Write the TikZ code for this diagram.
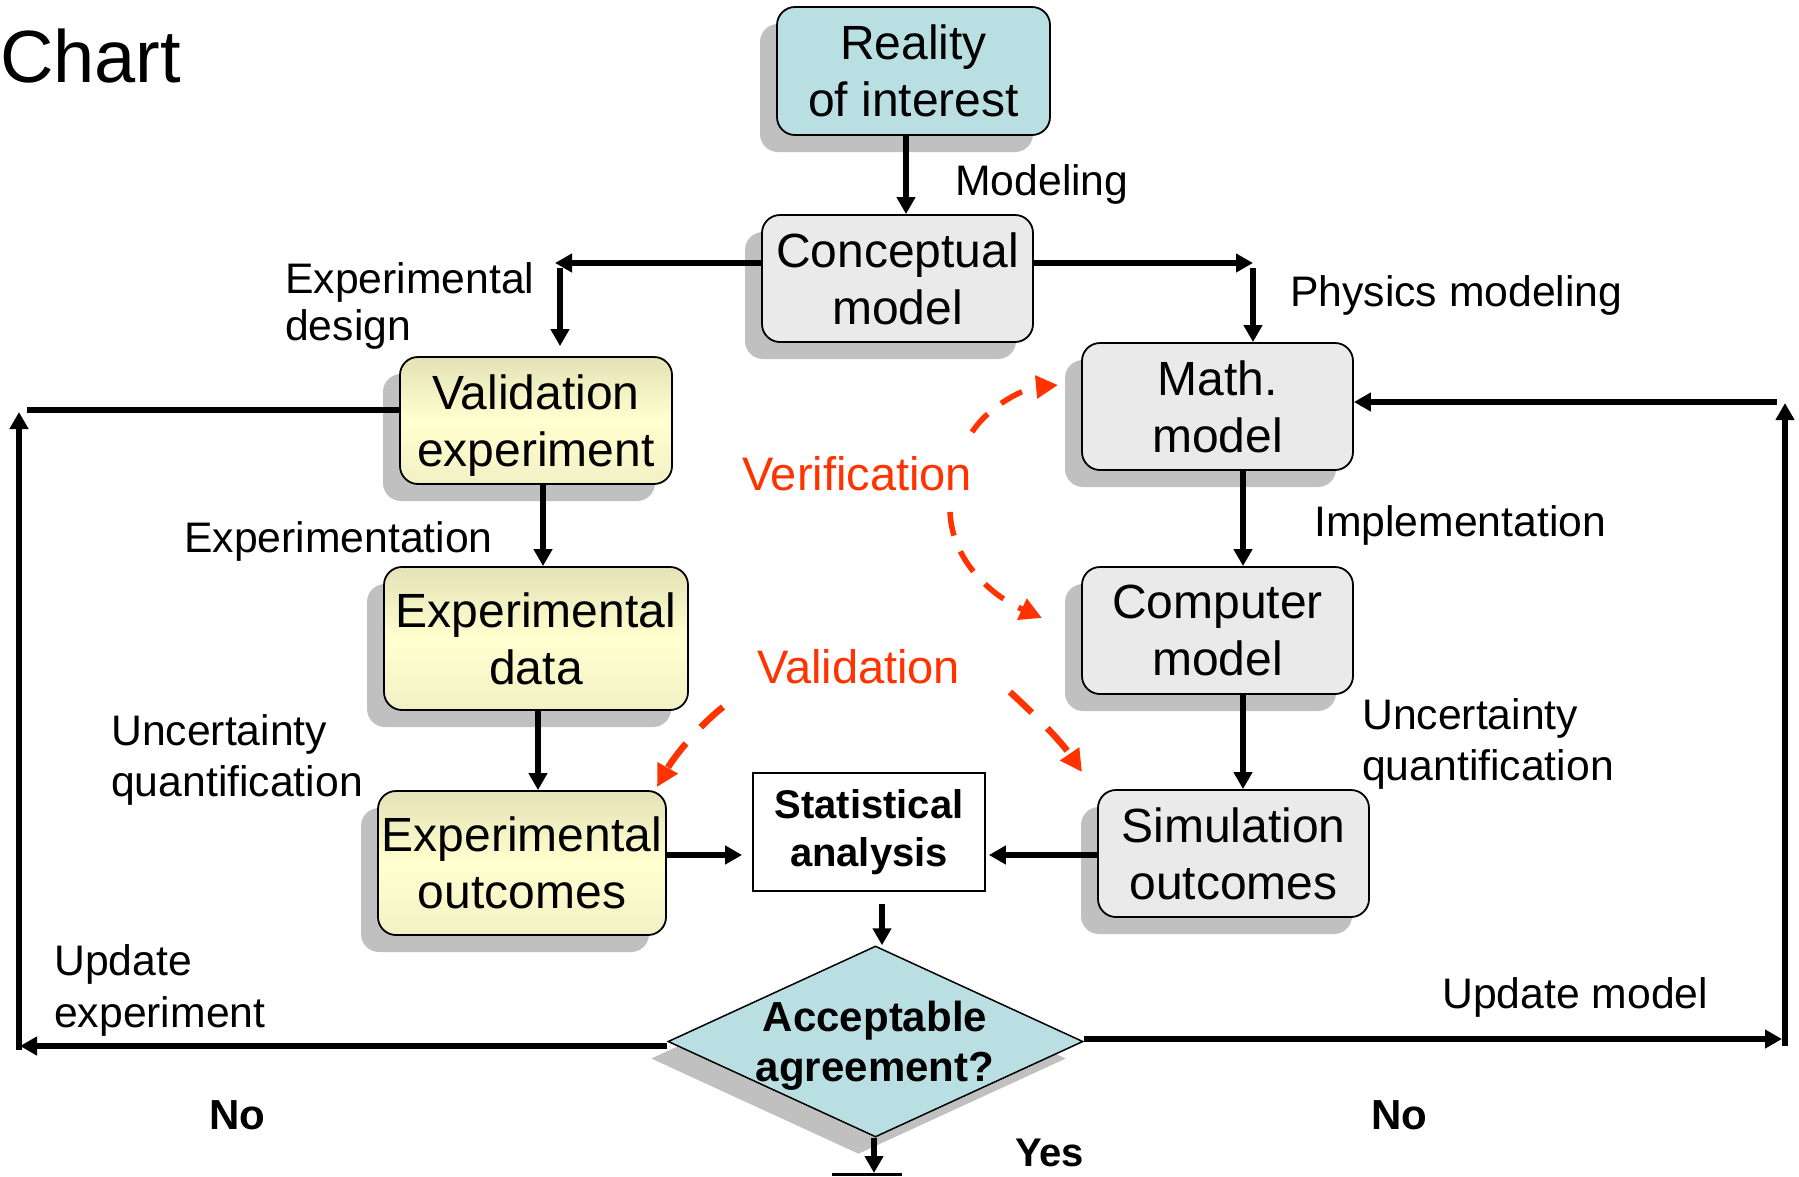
\documentclass[tikz,border=0pt]{standalone}
\usepackage{fontspec}
\setmainfont{Liberation Sans}
\usetikzlibrary{arrows.meta,shapes.geometric,shadows}
\definecolor{cyanbox}{HTML}{B9DFE3}
\definecolor{graybox}{HTML}{EAEAEA}
\definecolor{yTop}{HTML}{E4E2B6}
\definecolor{yMid}{HTML}{FFFFCF}
\definecolor{yBot}{HTML}{F2F1C6}
\definecolor{shad}{HTML}{C0C0C0}
\definecolor{redv}{HTML}{FF3300}
\begin{document}
\begin{tikzpicture}[x=1pt,y=-1pt,
  box/.style={draw=black, line width=1.8pt, rounded corners=18pt, inner sep=0pt, align=center,
    font=\fontsize{48}{57}\selectfont,
    general shadow={fill=shad, shadow xshift=-17pt, shadow yshift=-17pt}},
  gbox/.style={box, fill=graybox, minimum width=271pt, minimum height=127pt},
  ybox/.style={box, top color=yTop, bottom color=yBot, middle color=yMid},
  statbox/.style={draw=black, line width=1.8pt, fill=white, inner sep=0pt, align=center,
    minimum width=232pt, minimum height=118pt, font=\bfseries\fontsize{40}{48}\selectfont},
  dia/.style={diamond, draw=black, line width=1.5pt, fill=cyanbox, inner sep=0pt,
    minimum width=415pt, minimum height=191pt,
    general shadow={fill=shad, shadow xshift=-17pt, shadow yshift=-17pt}},
  lbl/.style={anchor=base west, inner sep=0pt, font=\fontsize{42.7}{50}\selectfont},
  blbl/.style={anchor=base west, inner sep=0pt, font=\bfseries\fontsize{42}{50}\selectfont},
  rlbl/.style={anchor=base west, inner sep=0pt, text=redv, font=\fontsize{47}{57}\selectfont},
  arr/.style={line width=5.2pt, -{Triangle[length=17pt,width=18pt]}},
  plain/.style={line width=5.2pt},
  redarr/.style={draw=redv, line width=5.5pt, dash pattern=on 24pt off 17pt,
    -{Triangle[length=22pt,width=22pt]}}
]
\useasboundingbox (0,0) rectangle (1799,1176);
\fill[white] (0,0) rectangle (1799,1176);

% title
\node[anchor=base west, inner sep=0pt, font=\fontsize{74}{80}\selectfont] (title) at (0,82) {Chart};

% boxes
\node[box, fill=cyanbox, minimum width=273pt, minimum height=128pt] (reality) at (913.5,71) {Reality\\of interest};
\node[gbox] (concept) at (897.5,278.5) {Conceptual\\model};
\node[ybox, minimum width=272pt, minimum height=127pt] (valexp) at (536,420.5) {Validation\\ex\smash{p}eriment};
\node[ybox, minimum width=304pt, minimum height=143pt] (expdata) at (536,638.5) {Experimental\\data};
\node[ybox, minimum width=288pt, minimum height=144pt] (expout) at (522,863) {Experimental\\outcomes};
\node[gbox] (math) at (1217.5,406.5) {Math.\\model};
\node[gbox] (comp) at (1217.5,630.5) {Computer\\model};
\node[gbox] (sim) at (1233.5,853.5) {Simulation\\outcomes};
\node[statbox] (stat) at (869,832) {Statistical\\analysis};
\node[dia] (dec) at (875.5,1041.5) {};
\node[align=center, inner sep=0pt, font=\bfseries\fontsize{42}{50}\selectfont] (dectext) at (875,1046) {Acceptable\\agreement?};

% guide coordinates
\coordinate (gx1) at (906,0);
\coordinate (gl) at (555,263);
\coordinate (gl2) at (560,268);
\coordinate (gr) at (1253,263);
\coordinate (gr2) at (1253,268);
\coordinate (gx2) at (543,0);
\coordinate (gx3) at (538,0);
\coordinate (gy1) at (0,855);
\coordinate (gx4) at (882,0);
\coordinate (gx5) at (1243,0);
\coordinate (lb) at (20,1046);
\coordinate (lv0) at (19,1050);
\coordinate (lt) at (19,412);
\coordinate (lh) at (27,410);
\coordinate (rb) at (1782,1039);
\coordinate (rv0) at (1785,1046);
\coordinate (rt) at (1785,403);
\coordinate (rh) at (1777,402);
\coordinate (bt) at (874,1173);

% black connectors
\draw[arr] (gx1 |- reality.south) -- (gx1 |- concept.north);
\draw[arr] (concept.west |- gl) -- (gl);
\draw[arr, shorten >=10pt] (gl2) -- (gl2 |- valexp.north);
\draw[arr] (concept.east |- gr) -- (gr);
\draw[arr] (gr2) -- (gr2 |- math.north);
\draw[arr] (gx2 |- valexp.south) -- (gx2 |- expdata.north);
\draw[arr] (gx3 |- expdata.south) -- (gx3 |- expout.north);
\draw[arr, shorten >=10pt] (expout.east |- gy1) -- (stat.west |- gy1);
\draw[arr, shorten >=3pt] (sim.west |- gy1) -- (stat.east |- gy1);
\draw[arr, shorten <=12pt] (gx4 |- stat.south) -- (gx4 |- dec.north);
\draw[arr] (gx5 |- math.south) -- (gx5 |- comp.north);
\draw[arr] (gx5 |- comp.south) -- (gx5 |- sim.north);
% left loop
\draw[arr] (dec.west |- lb) -- (lb);
\draw[arr] (lv0) -- (lt);
\draw[plain] (lh) -- (valexp.west |- lh);
% right loop
\draw[arr] (dec.east |- rb) -- (rb);
\draw[arr] (rv0) -- (rt);
\draw[arr] (rh) -- (math.east |- rh);
% bottom exit
\draw[arr] (bt |- dec.south) -- (bt);
\draw[line width=3pt] (832,1174.5) -- (902,1174.5);

% red dashed arrows
\coordinate (v1s) at (972,432);
\coordinate (v1e) at (1058,385);
\coordinate (v2s) at (950,512);
\coordinate (v2e) at (1042,618);
\coordinate (a1s) at (723,707);
\coordinate (a1e) at (657,787);
\coordinate (a2s) at (1010,692);
\coordinate (a2e) at (1082,772);
\draw[redarr] (v1s) .. controls (990,405) and (1025,388) .. (v1e);
\draw[redarr] (v2s) .. controls (952,560) and (990,595) .. (v2e);
\draw[redarr, line width=6.5pt, dash pattern=on 30pt off 22pt] (a1s) .. controls (700,725) and (675,755) .. (a1e);
\draw[redarr, line width=6.5pt, dash pattern=on 30pt off 22pt] (a2s) .. controls (1035,715) and (1060,740) .. (a2e);

% labels
\node[lbl] (lmodel) at (955,195) {Modeling};
\node[lbl] (lexpd1) at (285,293) {Experimental};
\node[lbl] (lexpd2) at (285,340) {design};
\node[lbl] (lphys) at (1290,306) {Physics modeling};
\node[lbl] (limpl) at (1314,536) {Implementation};
\node[lbl] (lexpt) at (184,552) {Experimentation};
\node[lbl] (luq1) at (111,745) {Uncertainty};
\node[lbl] (luq2) at (111,796) {quantification};
\node[lbl] (ruq1) at (1362,729) {Uncertainty};
\node[lbl] (ruq2) at (1362,780) {quantification};
\node[lbl] (lupd1) at (54,975) {Update};
\node[lbl] (lupd2) at (54,1027) {experiment};
\node[lbl] (rupd) at (1442,1008) {Update model};
\node[blbl] (lno) at (209,1129) {No};
\node[blbl] (rno) at (1371,1129) {No};
\node[blbl, font=\bfseries\fontsize{40}{48}\selectfont] (yes) at (1015,1166) {Yes};
\node[rlbl] (lver) at (742,490) {Verification};
\node[rlbl] (lval) at (757,683) {Validation};
\end{tikzpicture}
\end{document}
